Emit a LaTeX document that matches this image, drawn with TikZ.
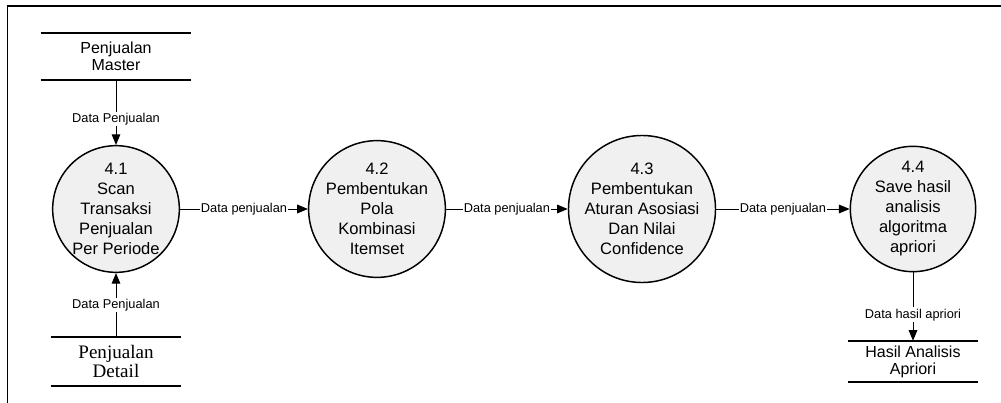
\documentclass[tikz,border=0pt]{standalone}
\usepackage{fontspec}
\setmainfont{Liberation Sans}
\newfontfamily\serifstore{Liberation Serif}
\usetikzlibrary{arrows.meta,positioning}

\begin{document}
\begin{tikzpicture}[x=0.75pt, y=-0.75pt, font=\fontsize{12.4}{15}\selectfont]
\tikzstyle{proc}=[circle, draw=black, line width=1.1pt, fill=gray!12, minimum size=94pt, inner sep=0pt, align=center]
\tikzstyle{store}=[minimum width=97.5pt, inner sep=0pt, align=center]
\tikzstyle{storeline}=[line width=1.5pt]
\tikzstyle{arrow}=[-{Triangle[length=8pt,width=6.5pt]}, line width=0.75pt]
\tikzstyle{lbl}=[fill=white, inner sep=1pt, font=\fontsize{9.6}{11}\selectfont]
\useasboundingbox (0,0) rectangle (1001,403);
\draw[line width=1.1pt] (7.5,403) -- (7.5,6) -- (1001,6);
% processes
\node (p1) [proc] at (116,209) {4.1\\Scan\\Transaksi\\Penjualan\\Per Periode};
\node (p2) [proc] at (377,209) {4.2\\Pembentukan\\Pola\\Kombinasi\\Itemset};
\node (p3) [proc] at (642,209) {4.3\\Pembentukan\\Aturan Asosiasi\\Dan Nilai\\Confidence};
\node (p4) [proc] at (913,209) {4.4\\Save hasil\\analisis\\algoritma\\apriori};
% data stores
\node (master) [store, minimum width=112.5pt, minimum height=35.25pt, font=\fontsize{12}{12.75}\selectfont] at (116,56.5) {Penjualan\\Master};
\node (detail) [store, minimum height=36.75pt, font=\serifstore\fontsize{14.3}{14.25}\selectfont] at (116,361.5) {Penjualan\\Detail};
\node (hasil) [store, minimum height=30.75pt, font=\fontsize{12}{12.75}\selectfont] at (913,361.5) {Hasil Analisis\\Apriori};
\foreach \s in {master,detail,hasil} {
  \draw[storeline] (\s.north west) -- (\s.north east);
  \draw[storeline] (\s.south west) -- (\s.south east);
}
% flows
\draw[arrow] (master.south) -- (p1.north) node[lbl, pos=0.6] {Data Penjualan};
\draw[arrow] (detail.north) -- (p1.south) node[lbl, pos=0.5] {Data Penjualan};
\draw[arrow] (p1.east) -- (p2.west) node[lbl, midway] {Data penjualan};
\draw[arrow] (p2.east) -- (p3.west) node[lbl, midway] {Data penjualan};
\draw[arrow] (p3.east) -- (p4.west) node[lbl, midway] {Data penjualan};
\draw[arrow] (p4.south) -- (hasil.north) node[lbl, pos=0.62] {Data hasil apriori};
\end{tikzpicture}
\end{document}
